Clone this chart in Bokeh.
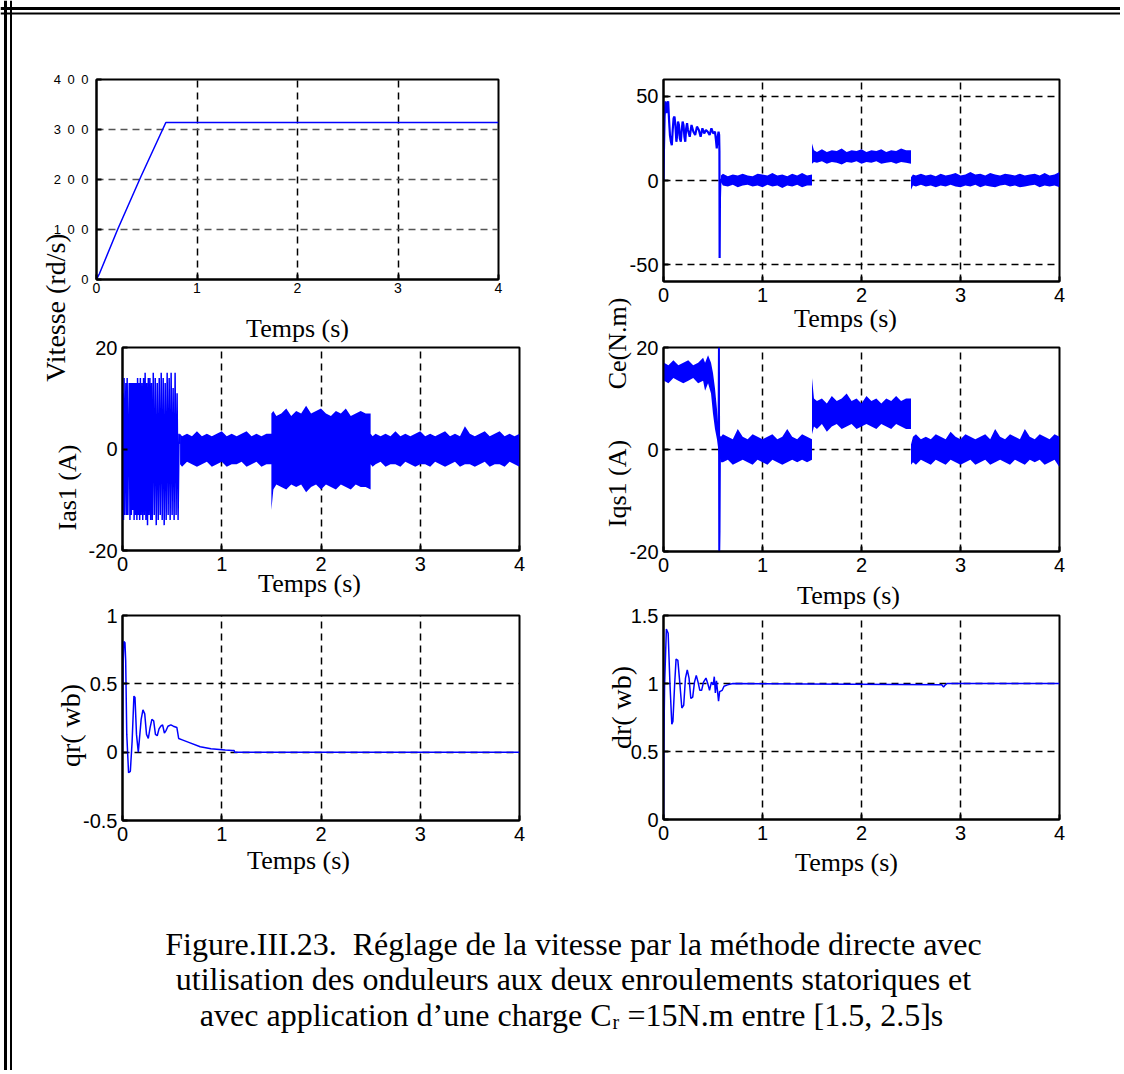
from bokeh.plotting import figure
from bokeh.models import Range1d, FixedTicker, Label, Span, GridBox
from bokeh.embed import file_html
from bokeh.resources import INLINE

# ---------------- data ----------------
t_ticks = [0, 1, 2, 3, 4]

# Vitesse (rd/s)
vit_t = [0.0, 0.03, 0.21, 0.44, 0.69, 4.0]
vit_w = [0.0, 12.0, 100.0, 205.0, 314.0, 314.0]

# Ce (N.m) transient
ce_t = [0.000, 0.004, 0.011, 0.020, 0.029, 0.038, 0.047, 0.056, 0.065, 0.075,
        0.084, 0.093, 0.102, 0.111, 0.120, 0.130, 0.138, 0.147, 0.156, 0.165,
        0.175, 0.184, 0.193, 0.202, 0.211, 0.220, 0.229, 0.238, 0.247, 0.265,
        0.283, 0.302, 0.320, 0.338, 0.357, 0.375, 0.393, 0.411, 0.429, 0.447,
        0.466, 0.484, 0.502, 0.520, 0.530, 0.538, 0.548, 0.556, 0.562, 0.565,
        0.567, 0.570, 0.575]
ce_v = [0, 17, 38, 47, 40, 45, 47, 36, 27, 23,
        21, 30, 37, 38, 33, 23, 27, 35, 33, 25,
        23, 30, 35, 33, 26, 23, 31, 34, 30, 26,
        33, 29, 27, 32, 30, 26, 31, 28, 30, 29,
        27, 31, 28, 29, 24, 19, 26, 29, 27, 17,
        -46, -10, 1]

# time samples of the noisy steady segments
seg_a_t = [0.58, 0.60, 0.65, 0.70, 0.75, 0.80, 0.85, 0.90, 0.95, 1.00,
           1.05, 1.10, 1.15, 1.20, 1.25, 1.30, 1.35, 1.40, 1.45, 1.50]
seg_b_t = [1.50, 1.52, 1.55, 1.60, 1.65, 1.70, 1.75, 1.80, 1.85, 1.90, 1.95,
           2.00, 2.05, 2.10, 2.15, 2.20, 2.25, 2.30, 2.35, 2.40, 2.45, 2.50]
seg_c_t = [2.50, 2.52, 2.55, 2.60, 2.65, 2.70, 2.75, 2.80, 2.85, 2.90, 2.95,
           3.00, 3.05, 3.10, 3.15, 3.20, 3.25, 3.30, 3.35, 3.40, 3.45,
           3.50, 3.55, 3.60, 3.65, 3.70, 3.75, 3.80, 3.85, 3.90, 3.95, 4.00]

ce_a_hi = [3, 4, 2.5, 3.5, 3, 4, 3, 2.5, 4, 3.5, 3, 4.5, 3, 3.5, 2.5, 4, 3, 4.5, 3, 3.5]
ce_a_lo = [-1, -3, -3.5, -2.5, -4, -3, -2.5, -3.5, -3, -4, -2.5, -3.5, -3, -4.5, -3, -3.5, -2.5, -4, -3, -3]
ce_b_hi = [22, 18, 17, 18.5, 17, 18, 17.5, 19, 17, 18, 17.5, 18.5, 17, 18, 17.5, 18.5, 17, 18, 17.5, 19, 18, 18]
ce_b_lo = [10, 11, 10.5, 11.5, 10, 11, 10.5, 9.5, 11, 10.5, 11.5, 10, 11, 10.5, 11.5, 10, 10.5, 11, 10, 11, 10.5, 10]
ce_c_hi = [2, 3.5, 3, 4, 3, 3.5, 2.5, 4, 3, 3.5, 4.5, 3, 3.5, 5, 3.5, 4, 3, 4.5, 3.5, 3, 4, 3.5, 3, 4, 3, 3.5, 4, 3, 4.5, 3, 3.5, 5]
ce_c_lo = [-5.5, -3, -3.5, -2.5, -3.5, -3, -4, -3, -3.5, -2.5, -3.5, -4, -3, -3.5, -2.5, -4, -3, -3.5, -4, -3, -2.5, -3.5, -3, -4, -3.5, -3, -2.5, -4, -3, -3.5, -3, -4]

# Ias1 (A) start-up oscillation
ias_t = [0.000, 0.004, 0.010, 0.016, 0.022, 0.028, 0.034, 0.040, 0.047, 0.054,
         0.061, 0.068, 0.075, 0.082, 0.089, 0.096, 0.103, 0.110, 0.117, 0.124,
         0.131, 0.138, 0.145, 0.152, 0.159, 0.166, 0.173, 0.180, 0.188, 0.196,
         0.204, 0.212, 0.220, 0.228, 0.236, 0.244, 0.252, 0.260, 0.268, 0.276,
         0.284, 0.292, 0.300, 0.310, 0.320, 0.330, 0.340, 0.350, 0.360, 0.370,
         0.380, 0.390, 0.400, 0.410, 0.420, 0.430, 0.440, 0.450, 0.460, 0.470,
         0.480, 0.490, 0.500, 0.510, 0.520, 0.530, 0.540, 0.550, 0.560, 0.570,
         0.580]
ias_v = [0, 11, -14, 14, -13, 3, 13, -13, 14, -13,
         2, 13, -14, 13, -13, 13, -12, 13, -14, 13,
         -13, 13, -14, 14, -13, 13, -14, 14, -13, 13,
         -14, 14, -13, 15, -14, 13, -15, 14, -13, 14,
         -14, 13, -14, 15, -13, 14, -15, 13, -14, 14,
         -13, 15, -14, 14, -15, 13, -14, 15, -13, 14,
         -14, 15, -13, 12, -14, 15, -13, 11, -14, 3,
         1]
ias_a_hi = [3, 2.5, 3, 2.5, 3.5, 2.5, 3, 2.5, 3, 3.5, 2.5, 3, 2.5, 3, 3.5, 2.5, 3, 2.5, 3, 3]
ias_a_lo = [-3, -3.5, -2.5, -3, -3.5, -3, -2.5, -3.5, -3, -2.5, -3.5, -3, -3, -2.5, -3.5, -3, -2.5, -3.5, -3, -3]
ias_b_hi = [7, 7.5, 6.5, 7, 8, 6.5, 7.5, 7, 8.5, 7, 7.5, 8, 7, 6.5, 7.5, 7, 8, 6.5, 7, 7.5, 7, 7]
ias_b_lo = [-12, -8, -7, -7.5, -8, -7, -7.5, -7, -8.5, -7.5, -7, -8, -7, -7.5, -8, -7, -7.5, -8, -7, -7.5, -7.5, -8]
ias_c_hi = [3, 2.5, 3, 2.5, 3, 2.5, 3.5, 2.5, 3, 2.5, 3, 3.5, 2.5, 3, 2.5, 3, 3.5, 2.5, 3, 2.5, 4.5, 3, 2.5, 3, 3.5, 2.5, 3, 3.5, 2.5, 3, 2.5, 3]
ias_c_lo = [-3, -3.5, -3, -2.5, -3.5, -3, -3, -3.5, -2.5, -3, -3.5, -3, -3, -3.5, -2.5, -3, -3.5, -3, -2.5, -3.5, -3, -3, -3.5, -3, -2.5, -3.5, -3, -3, -3.5, -2.5, -3, -3.5]

# Iqs1 (A)
iqs_0_t = [0.0, 0.005, 0.05, 0.10, 0.15, 0.20, 0.25, 0.30, 0.35, 0.40, 0.42, 0.45, 0.48, 0.50, 0.52, 0.54, 0.56]
iqs_0_hi = [20, 17, 16.5, 17.5, 16.5, 17, 17.5, 16.5, 17, 18, 17, 18.5, 17, 15, 12, 8, 3]
iqs_0_lo = [13, 13.5, 13, 14, 13.5, 13, 13.5, 14, 13, 13.5, 11.5, 13, 11, 7, 4, 2, -1]
iqs_a_hi = [2.5, 3, 2.5, 2, 4, 2.5, 2, 3, 2.5, 2, 2.5, 3, 2, 2.5, 4, 2.5, 2, 3, 2.5, 2]
iqs_a_lo = [-2.5, -2.5, -2, -3, -2.5, -2, -2.5, -3, -2, -2.5, -3, -2, -2.5, -3, -2.5, -2, -2.5, -2, -2.5, -2]
iqs_b_hi = [14, 10, 9.5, 10, 9, 10.5, 9.5, 10, 11, 9.5, 10, 9, 10.5, 9.5, 10, 9, 10, 9.5, 10.5, 9.5, 10, 10]
iqs_b_lo = [3, 4.5, 4, 5, 3.5, 4.5, 5, 4, 4.5, 5, 4, 4.5, 5, 4.5, 4, 5, 4.5, 4, 5, 4.5, 4, 4]
iqs_c_hi = [1, 2.5, 3, 2, 2.5, 2, 3, 2.5, 2, 3.5, 2.5, 2, 3, 2.5, 2, 2.5, 3, 2, 4, 2.5, 2, 3, 2.5, 2, 4, 2.5, 2, 3, 2.5, 2, 3, 2.5]
iqs_c_lo = [-3, -2.5, -3, -2, -2.5, -3, -2, -2.5, -3, -2, -2.5, -3, -2.5, -2, -3, -2.5, -2, -3, -2.5, -2, -2.5, -3, -2, -2.5, -3, -2, -2.5, -2, -3, -2.5, -2, -3.5]
iqs_sp_t = [0.556, 0.560, 0.563, 0.566, 0.570]
iqs_sp_v = [2, 20, -20, -16, 0]

# qr (wb)
qr_t = [0, 0.007, 0.014, 0.025, 0.032, 0.043, 0.061, 0.079, 0.097, 0.115,
        0.126, 0.141, 0.159, 0.170, 0.188, 0.206, 0.224, 0.242, 0.260, 0.278,
        0.296, 0.314, 0.332, 0.350, 0.368, 0.386, 0.404, 0.422, 0.440, 0.458,
        0.487, 0.512, 0.548, 0.566, 0.602, 0.674, 0.783, 0.891, 1.035, 1.107,
        1.125, 1.130, 4.0]
qr_v = [0, 0.67, 0.81, 0.80, 0.67, 0.13, -0.15, -0.14, 0.08, 0.41,
        0.40, 0.13, 0.0, 0.09, 0.24, 0.31, 0.28, 0.13, 0.10, 0.18,
        0.24, 0.23, 0.13, 0.12, 0.17, 0.19, 0.20, 0.14, 0.16, 0.19,
        0.20, 0.19, 0.18, 0.10, 0.09, 0.07, 0.04, 0.025, 0.015, 0.012,
        0.012, 0.0, 0.0]

# dr (wb)
dr_t = [0, 0.004, 0.011, 0.029, 0.047, 0.065, 0.084, 0.095, 0.113, 0.127,
        0.145, 0.164, 0.185, 0.204, 0.222, 0.240, 0.258, 0.276, 0.295, 0.313,
        0.331, 0.349, 0.367, 0.385, 0.404, 0.429, 0.447, 0.465, 0.484, 0.502,
        0.513, 0.524, 0.535, 0.545, 0.556, 0.567, 0.593, 0.611, 0.647, 0.702,
        2.810, 2.829, 2.847, 2.865, 4.0]
dr_v = [0, 0.55, 0.99, 1.40, 1.37, 1.00, 0.70, 0.72, 1.00, 1.18,
        1.17, 1.01, 0.82, 0.84, 1.04, 1.10, 1.04, 0.89, 0.90, 1.01,
        1.06, 1.01, 0.95, 0.95, 1.01, 1.04, 1.00, 0.95, 1.01, 0.99,
        1.05, 0.93, 1.02, 0.95, 0.87, 0.94, 0.95, 0.98, 0.99, 1.00,
        0.99, 0.975, 0.99, 1.00, 1.00]

vit_yticks = [0, 100, 200, 300, 400]
vit_ylabels = ["0", "1\u20020\u20020", "2\u20020\u20020", "3\u20020\u20020", "4\u20020\u20020"]
ce_yticks, ce_ylabels = [-50, 0, 50], ["-50", "0", "50"]
i_yticks, i_ylabels = [-20, 0, 20], ["-20", "0", "20"]
qr_yticks, qr_ylabels = [-0.5, 0, 0.5, 1], ["-0.5", "0", "0.5", "1"]
dr_yticks, dr_ylabels = [0, 0.5, 1, 1.5], ["0", "0.5", "1", "1.5"]

caption = ["Figure.III.23.\u00a0 R\u00e9glage de la vitesse par la m\u00e9thode directe avec",
           "utilisation des onduleurs aux deux enroulements statoriques et"]
caption3 = ["avec application d\u2019une charge C", "r", "\u00a0=15N.m entre [1.5, 2.5]s"]

# ---------------- layout (page pixel coordinates) ----------------
W, H = 1120, 1070
BLUE = "#0000ff"
SERIF = "Liberation Serif"
SANS = "Liberation Sans"


def panel(L, R, T, B, y0, y1, yticks, ylabels, tick_fs="20px", ytick_fs=None,
          xstand=6, ystand=5, hgrid="black"):
    p = figure(width=W, height=H, x_range=Range1d(0, 4), y_range=Range1d(y0, y1),
               output_backend="svg", toolbar_location=None, frame_align=False,
               min_border_left=L, min_border_right=W - R,
               min_border_top=T, min_border_bottom=H - B,
               background_fill_color=None, border_fill_color=None,
               outline_line_color="black", outline_line_width=2)
    p.xaxis.ticker = FixedTicker(ticks=t_ticks)
    p.yaxis.ticker = FixedTicker(ticks=yticks)
    p.yaxis.major_label_overrides = dict(zip(yticks, ylabels))
    for ax in (p.xaxis[0], p.yaxis[0]):
        ax.axis_line_color = "black"
        ax.axis_line_width = 2
        ax.major_tick_in = 5
        ax.major_tick_out = 0
        ax.major_tick_line_width = 2
        ax.minor_tick_line_color = None
        ax.major_label_text_font = SANS
        ax.major_label_text_color = "black"
    p.xaxis.major_label_text_font_size = tick_fs
    p.yaxis.major_label_text_font_size = ytick_fs or tick_fs
    p.xaxis.major_label_standoff = xstand
    p.yaxis.major_label_standoff = ystand
    p.xgrid.grid_line_color = "black"
    p.ygrid.grid_line_color = hgrid
    for g in (p.xgrid[0], p.ygrid[0]):
        g.grid_line_dash = "7 5"
        g.grid_line_width = 1.5
    return p


def band(p, t, hi, lo):
    assert len(t) == len(hi) == len(lo)
    p.varea(x=t, y1=lo, y2=hi, fill_color=BLUE)


# background page: frame and texts
bg = figure(width=W, height=H, x_range=Range1d(0, W), y_range=Range1d(H, 0),
            output_backend="svg", toolbar_location=None, min_border=0, frame_align=False,
            x_axis_location=None, y_axis_location=None,
            outline_line_color=None, background_fill_color="white",
            border_fill_color="white")
bg.grid.visible = False
bg.add_layout(Span(location=5, dimension="height", line_color="black", line_width=3))
bg.add_layout(Span(location=10.5, dimension="height", line_color="black", line_width=2))
bg.add_layout(Span(location=8, dimension="width", line_color="black", line_width=3))
bg.add_layout(Span(location=13, dimension="width", line_color="black", line_width=2))


def txt(x, y, s, size="26px", angle=0, align="center", font=SERIF):
    bg.add_layout(Label(x=x, y=y, text=s, text_font=font, text_font_size=size,
                        text_align=align, text_baseline="middle", text_color="black",
                        angle=angle, angle_units="deg"))


# panel 1: speed
p1 = panel(96, 498, 79, 279, 0, 400, vit_yticks, vit_ylabels, tick_fs="14px",
           ytick_fs="13px", xstand=3, ystand=8, hgrid="#555555")
p1.line(vit_t, vit_w, line_color=BLUE, line_width=1.5)

# panel 2: torque
p2 = panel(663, 1059, 79, 281, -60, 60, ce_yticks, ce_ylabels)
p2.line(ce_t, ce_v, line_color=BLUE, line_width=2.2)
band(p2, seg_a_t + seg_b_t + seg_c_t, ce_a_hi + ce_b_hi + ce_c_hi, ce_a_lo + ce_b_lo + ce_c_lo)

# panel 3: Ias1
p3 = panel(122, 519, 347, 550, -20, 20, i_yticks, i_ylabels)
assert len(ias_t) == len(ias_v)
p3.line(ias_t, ias_v, line_color=BLUE, line_width=1.5)
band(p3, seg_a_t + seg_b_t + seg_c_t, ias_a_hi + ias_b_hi + ias_c_hi, ias_a_lo + ias_b_lo + ias_c_lo)

# panel 4: Iqs1
p4 = panel(663, 1059, 347, 551, -20, 20, i_yticks, i_ylabels)
band(p4, iqs_0_t + seg_a_t + seg_b_t + seg_c_t, iqs_0_hi + iqs_a_hi + iqs_b_hi + iqs_c_hi,
     iqs_0_lo + iqs_a_lo + iqs_b_lo + iqs_c_lo)
p4.line(iqs_sp_t, iqs_sp_v, line_color=BLUE, line_width=2)

# panel 5: qr flux
p5 = panel(122, 519, 615, 820, -0.5, 1, qr_yticks, qr_ylabels)
assert len(qr_t) == len(qr_v)
p5.line(qr_t, qr_v, line_color=BLUE, line_width=1.5)

# panel 6: dr flux
p6 = panel(663, 1059, 615, 819, 0, 1.5, dr_yticks, dr_ylabels)
assert len(dr_t) == len(dr_v)
p6.line(dr_t, dr_v, line_color=BLUE, line_width=1.5)

# axis titles
txt(55, 307, "Vitesse (rd/s)", size="28px", angle=90)
txt(617, 343, "Ce(N.m)", angle=90)
txt(67, 487, "Ias1 (A)", angle=90)
txt(617, 483, "Iqs1 (A)", angle=90)
txt(70, 725, "qr( wb)", size="28px", angle=90)
txt(621, 707, "dr( wb)", size="28px", angle=90)
for x, y in ((297, 328), (845, 318), (309, 583), (848, 595), (298, 860), (846, 862)):
    txt(x, y, "Temps (s)")

# caption
txt(573, 943, caption[0], size="32px")
txt(573, 978, caption[1], size="32px")
txt(611, 1014, caption3[0], size="32px", align="right")
txt(612, 1021, caption3[1], size="20px", align="left")
txt(619, 1014, caption3[2], size="32px", align="left")

layout = GridBox(children=[(bg, 0, 0), (p1, 0, 0), (p2, 0, 0), (p3, 0, 0),
                           (p4, 0, 0), (p5, 0, 0), (p6, 0, 0)])

with open("out.html", "w") as f:
    f.write(file_html(layout, INLINE))
